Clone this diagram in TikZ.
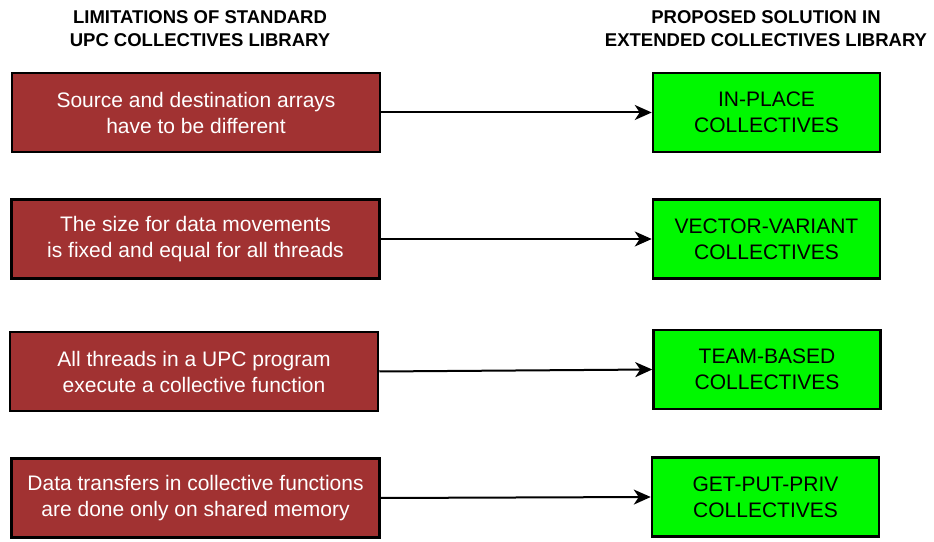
\documentclass[tikz,border=0pt]{standalone}
\usepackage{fontspec}
\setmainfont{Liberation Sans}
\usetikzlibrary{arrows.meta}
\definecolor{limred}{RGB}{161,50,50}
\definecolor{solgreen}{RGB}{0,248,0}
\begin{document}
\begin{tikzpicture}[x=1pt, y=1pt,
  limbox/.style={draw=black, line width=2.5pt, fill=limred, text=white, align=center,
    minimum width=368pt, minimum height=79pt, inner sep=0pt, font=\fontsize{21}{26}\selectfont},
  solbox/.style={draw=black, line width=2.5pt, fill=solgreen, text=black, align=center,
    minimum width=227pt, minimum height=79pt, inner sep=0pt, font=\fontsize{21}{26}\selectfont},
  headtext/.style={align=center, font=\fontsize{18.5}{23}\selectfont\bfseries},
  link/.style={line width=2pt, -{Stealth[length=17pt, width=15pt, inset=5pt]}}]
  \useasboundingbox (0,0) rectangle (934,541);
  % 제목
  \node[headtext] (limhead) at (200,512.5) {LIMITATIONS OF STANDARD\\UPC COLLECTIVES LIBRARY};
  \node[headtext] (solhead) at (766,512.5) {PROPOSED SOLUTION IN\\EXTENDED COLLECTIVES LIBRARY};
  % 왼쪽 상자(한계)
  \node[limbox] (lim1) at (196,428.5) {Source and destination arrays\\have to be different};
  \node[limbox] (lim2) at (195.5,302) {The size for data movements\\is fixed and equal for all threads};
  \node[limbox] (lim3) at (194,169.5) {All threads in a UPC program\\execute a collective function};
  \node[limbox] (lim4) at (195.5,43) {Data transfers in collective functions\\are done only on shared memory};
  % 오른쪽 상자(해결책)
  \node[solbox] (sol1) at (766.5,428.5) {IN-PLACE\\COLLECTIVES};
  \node[solbox] (sol2) at (766.5,302) {VECTOR-VARIANT\\COLLECTIVES};
  \node[solbox] (sol3) at (767,171.5) {TEAM-BASED\\COLLECTIVES};
  \node[solbox] (sol4) at (765.5,44) {GET-PUT-PRIV\\COLLECTIVES};
  % 화살표
  \foreach \i in {1,...,4}
    \draw[link] (lim\i.east) -- (sol\i.west);
\end{tikzpicture}
\end{document}
